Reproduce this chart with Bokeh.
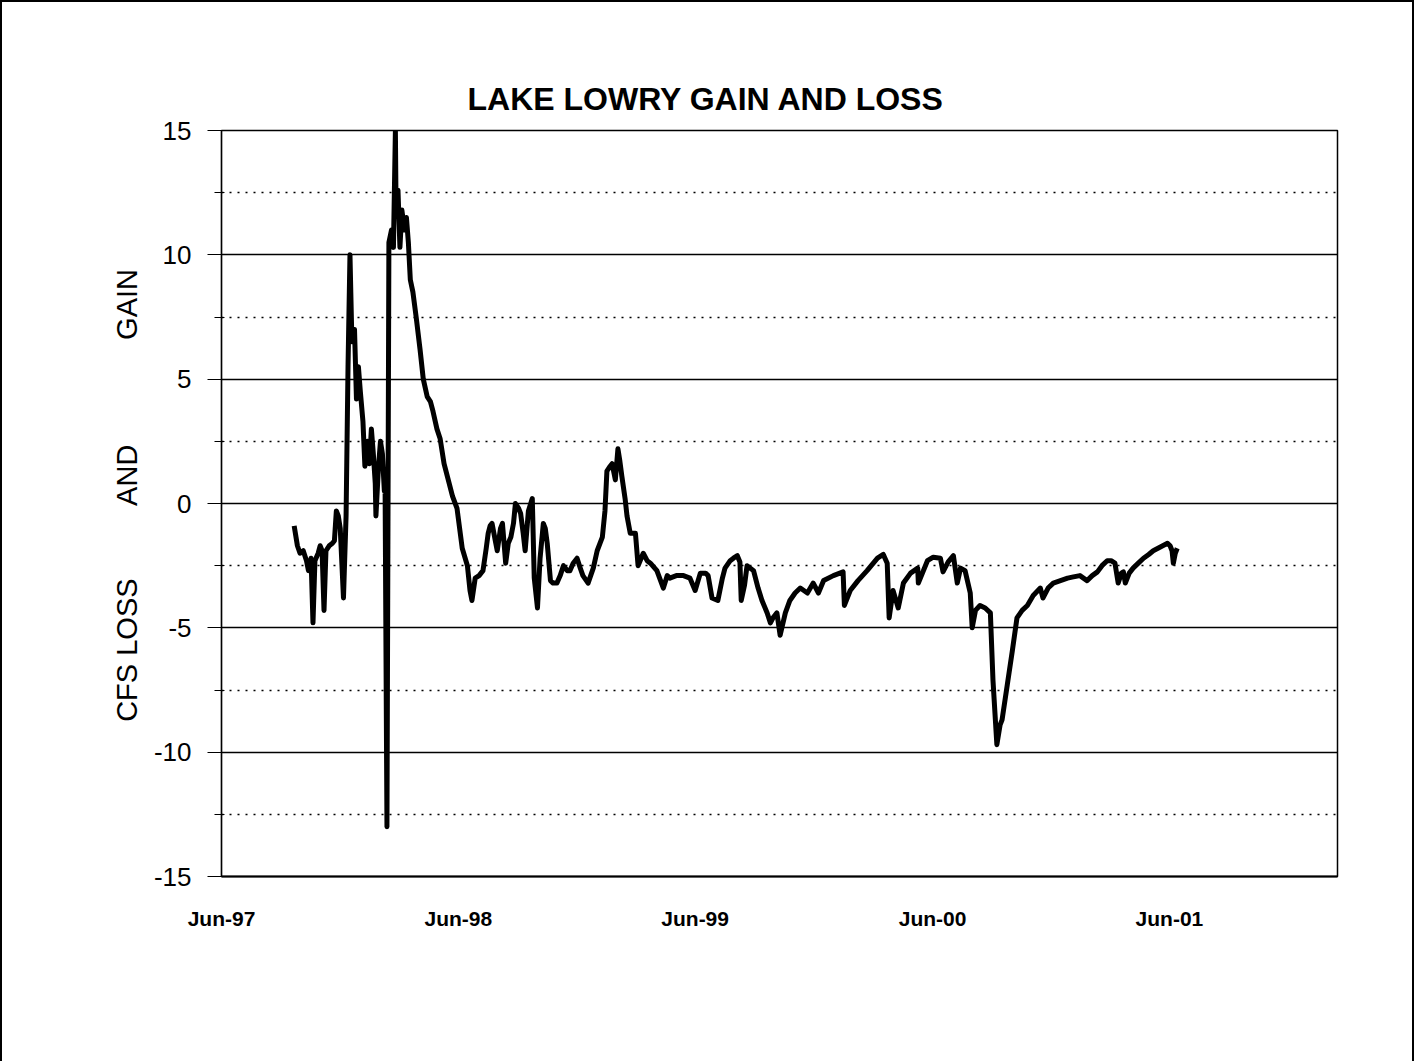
import pandas as pd
from bokeh.plotting import figure
from bokeh.models import FixedTicker, DatetimeTickFormatter, Range1d
from bokeh.embed import file_html
from bokeh.resources import INLINE

title_text = "LAKE LOWRY GAIN AND LOSS"
y_label = "\u00a0" * 2 + "CFS LOSS" + "\u00a0" * 9 + "AND" + "\u00a0" * 13 + "GAIN"

dates = [
    "1997-09-21", "1997-09-26", "1997-09-30", "1997-10-05", "1997-10-10", "1997-10-13", "1997-10-17",
    "1997-10-20", "1997-10-23", "1997-10-28", "1997-10-31", "1997-11-03", "1997-11-06", "1997-11-09",
    "1997-11-14", "1997-11-19", "1997-11-22", "1997-11-25", "1997-11-28", "1997-12-01", "1997-12-06",
    "1997-12-10", "1997-12-13", "1997-12-16", "1997-12-19", "1997-12-23", "1997-12-26", "1997-12-29",
    "1998-01-01", "1998-01-05", "1998-01-08", "1998-01-12", "1998-01-15", "1998-01-18", "1998-01-21",
    "1998-01-24", "1998-01-25", "1998-01-29", "1998-02-01", "1998-02-04", "1998-02-07", "1998-02-08",
    "1998-02-11", "1998-02-14", "1998-02-18", "1998-02-21", "1998-02-24", "1998-02-25", "1998-02-28",
    "1998-03-03", "1998-03-06", "1998-03-10", "1998-03-13", "1998-03-16", "1998-03-19", "1998-03-23",
    "1998-03-28", "1998-04-03", "1998-04-08", "1998-04-14", "1998-04-19", "1998-04-23", "1998-04-29",
    "1998-05-04", "1998-05-10", "1998-05-16", "1998-05-23", "1998-05-30", "1998-06-07", "1998-06-15",
    "1998-06-19", "1998-06-22", "1998-06-27", "1998-07-03", "1998-07-09", "1998-07-14", "1998-07-17",
    "1998-07-20", "1998-07-23", "1998-07-28", "1998-07-31", "1998-08-05", "1998-08-08", "1998-08-13",
    "1998-08-17", "1998-08-21", "1998-08-25", "1998-08-28", "1998-09-02", "1998-09-05", "1998-09-09",
    "1998-09-12", "1998-09-17", "1998-09-23", "1998-09-26", "1998-10-01", "1998-10-05", "1998-10-10",
    "1998-10-13", "1998-10-16", "1998-10-21", "1998-10-25", "1998-10-31", "1998-11-05", "1998-11-10",
    "1998-11-16", "1998-11-20", "1998-11-25", "1998-12-01", "1998-12-06", "1998-12-10", "1998-12-18",
    "1998-12-26", "1999-01-01", "1999-01-09", "1999-01-13", "1999-01-16", "1999-01-21", "1999-01-24",
    "1999-01-29", "1999-02-02", "1999-02-05", "1999-02-08", "1999-02-13", "1999-02-16", "1999-02-21",
    "1999-03-01", "1999-03-05", "1999-03-13", "1999-03-19", "1999-03-24", "1999-04-03", "1999-04-13",
    "1999-04-19", "1999-04-23", "1999-05-03", "1999-05-14", "1999-05-24", "1999-06-01", "1999-06-09",
    "1999-06-17", "1999-06-21", "1999-06-27", "1999-07-06", "1999-07-13", "1999-07-17", "1999-07-25",
    "1999-07-30", "1999-08-05", "1999-08-09", "1999-08-11", "1999-08-16", "1999-08-20", "1999-08-25",
    "1999-08-30", "1999-09-06", "1999-09-12", "1999-09-20", "1999-09-25", "1999-09-29", "1999-10-05",
    "1999-10-10", "1999-10-18", "1999-10-25", "1999-11-02", "1999-11-10", "1999-11-21", "1999-11-30",
    "1999-12-08", "1999-12-16", "1999-12-31", "2000-01-15", "2000-01-17", "2000-01-26", "2000-02-07",
    "2000-02-21", "2000-03-08", "2000-03-17", "2000-03-23", "2000-03-26", "2000-04-01", "2000-04-09",
    "2000-04-17", "2000-04-28", "2000-05-09", "2000-05-10", "2000-05-24", "2000-06-02", "2000-06-13",
    "2000-06-17", "2000-06-25", "2000-07-03", "2000-07-09", "2000-07-14", "2000-07-21", "2000-07-29",
    "2000-08-01", "2000-08-06", "2000-08-13", "2000-08-21", "2000-08-29", "2000-09-02", "2000-09-08",
    "2000-09-13", "2000-09-16", "2000-09-24", "2000-10-02", "2000-10-09", "2000-10-17", "2000-10-25",
    "2000-11-03", "2000-11-14", "2000-11-18", "2000-11-26", "2000-12-04", "2000-12-15", "2000-12-26",
    "2001-01-04", "2001-01-14", "2001-01-25", "2001-02-02", "2001-02-10", "2001-02-17", "2001-02-25",
    "2001-03-03", "2001-03-09", "2001-03-14", "2001-03-19", "2001-03-22", "2001-03-25", "2001-03-31",
    "2001-04-06", "2001-04-14", "2001-04-22", "2001-04-30", "2001-05-07", "2001-05-18", "2001-05-29",
    "2001-06-02", "2001-06-05", "2001-06-07", "2001-06-10", "2001-06-13",
]

cfs = [
    -0.9, -1.7, -2.0, -1.9, -2.3, -2.7, -2.2,
    -4.8, -2.3, -2.0, -1.7, -1.9, -4.3, -1.9,
    -1.7, -1.6, -1.5, -0.3, -0.5, -1.0, -3.8,
    -0.5, 5.5, 10.0, 6.5, 7.0, 4.2, 5.5,
    4.5, 3.3, 1.5, 2.5, 1.6, 3.0, 2.0,
    0.8, -0.5, 1.5, 2.5, 2.0, 0.5, 1.2,
    -13.0, 10.5, 11.0, 10.3, 15.0, 12.0, 12.6,
    10.3, 11.8, 11.0, 11.5, 10.5, 9.0, 8.5,
    7.5, 6.2, 5.0, 4.3, 4.1, 3.7, 3.0,
    2.6, 1.6, 1.0, 0.3, -0.2, -1.8, -2.5,
    -3.5, -3.9, -3.0, -2.9, -2.7, -1.8, -1.2,
    -0.9, -0.8, -1.5, -1.9, -1.0, -0.8, -2.4,
    -1.6, -1.35, -0.8, 0.0, -0.2, -0.4, -1.2,
    -1.9, -0.3, 0.2, -3.0, -4.2, -2.2, -0.8,
    -1.0, -1.6, -3.1, -3.2, -3.2, -2.9, -2.5,
    -2.7, -2.7, -2.4, -2.2, -2.6, -2.9, -3.2,
    -2.6, -1.9, -1.35, -0.3, 1.3, 1.5, 1.6,
    0.95, 2.2, 1.7, 1.1, 0.2, -0.5, -1.2,
    -1.2, -2.5, -2.0, -2.3, -2.4, -2.7, -3.4,
    -2.9, -3.0, -2.9, -2.9, -3.0, -3.5, -2.8,
    -2.8, -2.9, -3.8, -3.9, -3.0, -2.6, -2.3,
    -2.2, -2.1, -2.35, -3.9, -3.3, -2.5, -2.6,
    -2.7, -3.4, -3.9, -4.4, -4.8, -4.6, -4.4,
    -5.3, -4.4, -3.9, -3.6, -3.4, -3.6, -3.2,
    -3.6, -3.1, -2.9, -2.75, -4.1, -3.5, -3.1,
    -2.7, -2.2, -2.05, -2.4, -4.6, -3.5, -4.2,
    -3.2, -2.8, -2.6, -3.2, -2.3, -2.16, -2.2,
    -2.75, -2.35, -2.1, -3.2, -2.6, -2.7, -3.6,
    -5.0, -4.3, -4.1, -4.2, -4.4, -7.1, -9.7,
    -8.9, -8.7, -7.3, -5.9, -4.6, -4.3, -4.1,
    -3.7, -3.4, -3.8, -3.4, -3.2, -3.1, -3.0,
    -2.95, -2.9, -3.1, -2.9, -2.75, -2.5, -2.3,
    -2.3, -2.4, -3.2, -2.8, -2.75, -3.2, -2.8,
    -2.6, -2.4, -2.2, -2.05, -1.9, -1.75, -1.6,
    -1.7, -1.9, -2.4, -2.0, -1.8,
]

x_tick_dates = ["1997-06-01", "1998-06-01", "1999-06-01", "2000-06-01", "2001-06-01"]
y_major = [-15, -10, -5, 0, 5, 10, 15]
y_major_labels = ["-15", "-10", "-5", "0", "5", "10", "15"]
y_minor = [-12.5, -7.5, -2.5, 2.5, 7.5, 12.5]
x_start, x_end = "1997-06-01", "2002-02-15"

FONT = "Liberation Sans"

x = pd.to_datetime(dates)
p = figure(
    width=1414, height=1061, output_backend="svg", toolbar_location=None,
    x_axis_type="datetime",
    x_range=Range1d(pd.Timestamp(x_start), pd.Timestamp(x_end)),
    y_range=Range1d(-15, 15),
    min_border_left=219, min_border_right=79, min_border_top=128, min_border_bottom=187,
)
p.styles = {"border-top": "2px solid black", "border-left": "2px solid black",
            "border-right": "2px solid black"}

p.title.text = title_text
p.title.align = "left"
p.title.offset = 246
p.title.text_font = FONT
p.title.text_font_size = "32px"
p.title.text_font_style = "bold"
p.title.text_color = "black"
p.title.standoff = 28

p.outline_line_color = "black"
p.outline_line_width = 1.5

# y axis
p.yaxis.ticker = FixedTicker(ticks=y_major, minor_ticks=y_minor)
p.yaxis.major_label_overrides = {v: s for v, s in zip(y_major, y_major_labels)}
p.yaxis.major_label_text_font = FONT
p.yaxis.major_label_text_font_size = "26px"
p.yaxis.major_label_text_color = "black"
p.yaxis.major_tick_out = 14
p.yaxis.major_tick_in = 0
p.yaxis.minor_tick_out = 7
p.yaxis.minor_tick_in = 3
p.yaxis.major_label_standoff = 16
p.yaxis.axis_line_color = "black"
p.yaxis.axis_line_width = 1.2
p.yaxis.major_tick_line_color = "black"
p.yaxis.minor_tick_line_color = "black"
p.yaxis.axis_label = y_label
p.yaxis.axis_label_text_font = FONT
p.yaxis.axis_label_text_font_size = "29px"
p.yaxis.axis_label_text_font_style = "normal"
p.yaxis.axis_label_text_color = "black"
p.yaxis.axis_label_standoff = 8

# x axis
p.xaxis.ticker = FixedTicker(ticks=[pd.Timestamp(d).value / 1e6 for d in x_tick_dates])
fmt = "%b-%y"
p.xaxis.formatter = DatetimeTickFormatter(
    years=fmt, months=fmt, days=fmt, hours=fmt, minutes=fmt, seconds=fmt,
    milliseconds=fmt, microseconds=fmt, context=None)
p.xaxis.major_label_text_font = FONT
p.xaxis.major_label_text_font_size = "21px"
p.xaxis.major_label_text_font_style = "bold"
p.xaxis.major_label_text_color = "black"
p.xaxis.major_tick_out = 0
p.xaxis.major_tick_in = 0
p.xaxis.minor_tick_out = 0
p.xaxis.minor_tick_in = 0
p.xaxis.major_label_standoff = 30
p.xaxis.axis_line_color = "black"
p.xaxis.axis_line_width = 2

# grids
p.xgrid.grid_line_color = None
p.ygrid.grid_line_color = "black"
p.ygrid.grid_line_width = 1.6
p.ygrid.minor_grid_line_color = "black"
p.ygrid.minor_grid_line_width = 1.3
p.ygrid.minor_grid_line_dash = "2 6"

p.line(x, cfs, line_color="black", line_width=5, line_join="round")

open("out.html", "w").write(file_html(p, INLINE))
